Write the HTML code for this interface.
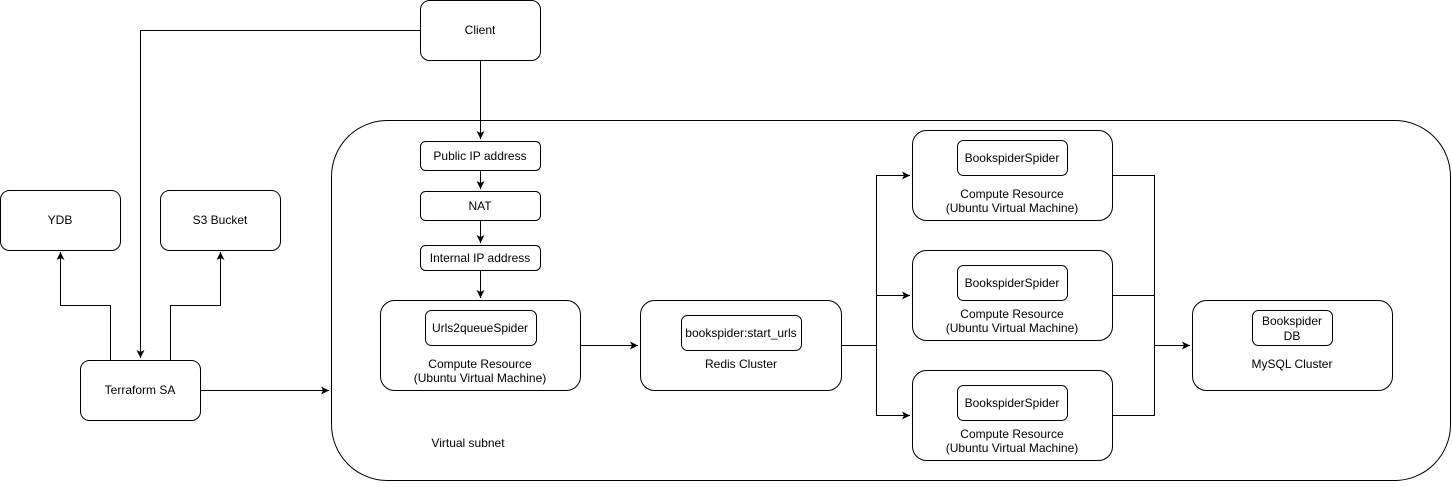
<!DOCTYPE html>
<html><head><meta charset="utf-8"><style>
html,body{margin:0;padding:0;background:#fff;}
svg text{font-family:"Liberation Sans",Arial,sans-serif;font-size:12px;fill:#000;}
</style></head><body>
<svg width="1452" height="482" viewBox="0 0 1452 482" xmlns="http://www.w3.org/2000/svg">
<defs><marker id="a" markerWidth="10" markerHeight="10" refX="8" refY="4" orient="auto" markerUnits="userSpaceOnUse"><path d="M0,0 L8,4 L0,8 L2,4 Z" fill="#000"/></marker></defs>
<g fill="#fff" stroke="#000" stroke-width="1">
<rect x="331.5" y="120.5" width="1119" height="360" rx="56"/>
<rect x="420.5" y="0.5" width="120" height="60" rx="9"/>
<rect x="0.5" y="190.5" width="120" height="60" rx="9"/>
<rect x="160.5" y="190.5" width="120" height="60" rx="9"/>
<rect x="80.5" y="360.5" width="120" height="60" rx="9"/>
<rect x="420.5" y="141.5" width="120" height="29" rx="5"/>
<rect x="420.5" y="191.5" width="120" height="29" rx="5"/>
<rect x="420.5" y="245.5" width="120" height="25" rx="5"/>
<rect x="380.5" y="300.5" width="200" height="90" rx="14"/>
<rect x="425.5" y="310.5" width="111" height="35" rx="6"/>
<rect x="640.5" y="300.5" width="201" height="90" rx="14"/>
<rect x="681.5" y="315.5" width="120" height="35" rx="6"/>
<rect x="912.5" y="130.5" width="200" height="90" rx="14"/>
<rect x="957.5" y="140.5" width="110" height="35" rx="6"/>
<rect x="912.5" y="250.5" width="200" height="90" rx="14"/>
<rect x="957.5" y="265.5" width="110" height="35" rx="6"/>
<rect x="912.5" y="370.5" width="200" height="90" rx="14"/>
<rect x="957.5" y="385.5" width="110" height="35" rx="6"/>
<rect x="1192.5" y="300.5" width="200" height="90" rx="14"/>
<rect x="1252.5" y="310.5" width="80" height="35" rx="6"/>
</g>
<g fill="none" stroke="#000" stroke-width="1">
<path d="M420.5,30.5 H140.5 V358" marker-end="url(#a)"/>
<path d="M480.5,60.5 V139" marker-end="url(#a)"/>
<path d="M480.5,170.5 V189" marker-end="url(#a)"/>
<path d="M480.5,220.5 V243" marker-end="url(#a)"/>
<path d="M480.5,270.5 V298" marker-end="url(#a)"/>
<path d="M110.5,360.5 V305.5 H60.5 V252" marker-end="url(#a)"/>
<path d="M170.5,360.5 V305.5 H220.5 V252" marker-end="url(#a)"/>
<path d="M200.5,390.5 H329" marker-end="url(#a)"/>
<path d="M580.5,345.5 H638" marker-end="url(#a)"/>
<path d="M841.5,345.5 H876.5 V175.5 H910" marker-end="url(#a)"/>
<path d="M876.5,295.5 H910" marker-end="url(#a)"/>
<path d="M876.5,345.5 V415.5 H910" marker-end="url(#a)"/>
<path d="M1112.5,175.5 H1154.5 V415.5 H1112.5 M1112.5,295.5 H1154.5 M1154.5,345.5 H1190" marker-end="url(#a)"/>
</g>
<g text-anchor="middle">
<text x="480" y="34">Client</text>
<text x="60" y="224">YDB</text>
<text x="220" y="224">S3 Bucket</text>
<text x="140" y="394">Terraform SA</text>
<text x="480" y="160">Public IP address</text>
<text x="480" y="210">NAT</text>
<text x="480" y="262">Internal IP address</text>
<text x="480" y="332">Urls2queueSpider</text>
<text x="480" y="368">Compute Resource</text>
<text x="480" y="382">(Ubuntu Virtual Machine)</text>
<text x="741" y="337">bookspider:start_urls</text>
<text x="741" y="368">Redis Cluster</text>
<text x="1012" y="162">BookspiderSpider</text>
<text x="1012" y="198">Compute Resource</text>
<text x="1012" y="212">(Ubuntu Virtual Machine)</text>
<text x="1012" y="287">BookspiderSpider</text>
<text x="1012" y="318">Compute Resource</text>
<text x="1012" y="332">(Ubuntu Virtual Machine)</text>
<text x="1012" y="407">BookspiderSpider</text>
<text x="1012" y="438">Compute Resource</text>
<text x="1012" y="452">(Ubuntu Virtual Machine)</text>
<text x="1292" y="325">Bookspider</text>
<text x="1292" y="340">DB</text>
<text x="1292" y="368">MySQL Cluster</text>
<text x="468" y="447">Virtual subnet</text>
</g>
</svg>
</body></html>
